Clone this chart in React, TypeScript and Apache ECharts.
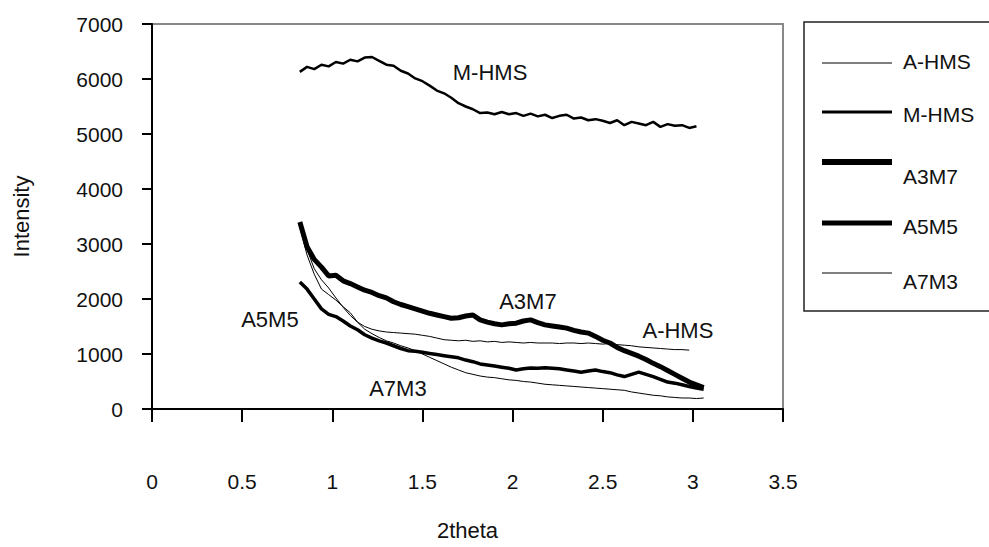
import React, { useEffect, useRef } from "react";
import * as echarts from "echarts";

const thetas = [
  0.82, 0.86, 0.9, 0.94, 0.98, 1.02, 1.06, 1.1, 1.14, 1.18, 1.22, 1.26, 1.3, 1.34, 1.38, 1.42, 1.46, 1.5, 1.54,
  1.58, 1.62, 1.66, 1.7, 1.74, 1.78, 1.82, 1.86, 1.9, 1.94, 1.98, 2.02, 2.06, 2.1, 2.14, 2.18, 2.22, 2.26, 2.3,
  2.34, 2.38, 2.42, 2.46, 2.5, 2.54, 2.58, 2.62, 2.66, 2.7, 2.74, 2.78, 2.82, 2.86, 2.9, 2.94, 2.98, 3.02, 3.06,
];

const aHMS = [
  3350, 2900, 2550, 2350, 2200, 2020, 1850, 1700, 1580, 1500, 1450, 1420, 1400, 1390, 1380, 1370, 1360, 1340, 1320,
  1290, 1260, 1250, 1240, 1250, 1230, 1240, 1220, 1230, 1210, 1220, 1210, 1200, 1210, 1200, 1200, 1200, 1190, 1200,
  1200, 1190, 1200, 1190, 1180, 1190, 1170, 1160, 1150, 1130, 1120, 1110, 1100, 1090, 1080, 1080, 1070, null, null,
];

const mHMS = [
  6130, 6220, 6180, 6260, 6230, 6310, 6280, 6350, 6320, 6390, 6400, 6330, 6260, 6240, 6150, 6100, 6010, 5960, 5880,
  5790, 5740, 5660, 5560, 5500, 5450, 5380, 5390, 5360, 5400, 5360, 5380, 5330, 5370, 5320, 5350, 5290, 5330, 5350,
  5280, 5300, 5250, 5270, 5240, 5200, 5250, 5160, 5220, 5190, 5160, 5220, 5130, 5180, 5150, 5160, 5110, 5140, null,
];

const a3M7 = [
  3400, 2950, 2720, 2580, 2420, 2430, 2330, 2280, 2220, 2160, 2120, 2060, 2020, 1950, 1900, 1860, 1820, 1780, 1740,
  1710, 1680, 1650, 1660, 1690, 1710, 1620, 1580, 1550, 1530, 1550, 1560, 1600, 1620, 1570, 1530, 1510, 1490, 1470,
  1430, 1400, 1380, 1320, 1250, 1200, 1120, 1060, 1010, 960, 900, 830, 770, 700, 630, 560, 490, 440, 390,
];

const a5M5 = [
  2310, 2180, 2000, 1820, 1720, 1680, 1600, 1510, 1440, 1350, 1290, 1240, 1200, 1150, 1100, 1060, 1050, 1030, 1010,
  990, 970, 950, 930, 890, 860, 820, 800, 780, 760, 740, 710, 730, 745, 740, 750, 740, 730, 710, 690, 670, 690, 710,
  680, 660, 620, 590, 630, 670, 630, 590, 540, 490, 470, 440, 410, 380, 360,
];

const a7M3 = [
  3300, 2800, 2450, 2180, 2080, 1980, 1860, 1750, 1580, 1450, 1370, 1300, 1240, 1200, 1150, 1110, 1060, 1000, 940,
  880, 820, 760, 710, 660, 630, 600, 580, 570, 550, 530, 520, 500, 490, 470, 450, 440, 430, 420, 410, 400, 390, 380,
  370, 360, 350, 340, 310, 290, 270, 250, 240, 220, 210, 200, 200, 190, 200,
];

const seriesNames = ["A-HMS", "M-HMS", "A3M7", "A5M5", "A7M3"];
const seriesValues = [aHMS, mHMS, a3M7, a5M5, a7M3];
const seriesWidths = [1, 2.5, 5, 3.5, 1];

// in-plot annotations [label, theta, intensity]
const annotations: [string, number, number][] = [
  ["M-HMS", 1.875, 6120],
  ["A3M7", 2.085, 1960],
  ["A-HMS", 2.917, 1420],
  ["A5M5", 0.654, 1620],
  ["A7M3", 1.364, 370],
];
const annotationSeries = [1, 2, 0, 3, 4];

const legendRows = [63, 112, 162, 223, 273];
const legendTextRows = [61, 114, 176, 226, 281];
const legendWidths = [1, 3, 6, 5, 1];

export default function App() {
  const ref = useRef<HTMLDivElement>(null);
  useEffect(() => {
    if (!ref.current) return;
    const chart = echarts.init(ref.current, null, { renderer: "svg" });
    const font = "'Liberation Sans', Arial, sans-serif";
    const series: any[] = seriesNames.map((name, si) => {
      const ann = annotations.filter((_, ai) => annotationSeries[ai] === si);
      return {
        name,
        type: "line",
        showSymbol: false,
        symbol: "none",
        smooth: false,
        connectNulls: false,
        lineStyle: { color: "#000", width: seriesWidths[si] },
        data: thetas.map((t, i) => [t, seriesValues[si][i]]),
        markPoint: ann.length
          ? {
              symbol: "circle",
              symbolSize: 1,
              itemStyle: { color: "rgba(0,0,0,0)" },
              label: {
                show: true,
                position: "inside",
                color: "#111",
                fontFamily: font,
                fontSize: 22,
                formatter: (p: any) => p.name,
              },
              data: ann.map((a) => ({ name: a[0], coord: [a[1], a[2]] })),
            }
          : undefined,
      };
    });

    const graphic: any[] = [
      {
        type: "rect",
        shape: { x: 804, y: 22, width: 200, height: 289 },
        style: { fill: "#fff", stroke: "#222", lineWidth: 1.5 },
        z: 10,
      },
    ];
    seriesNames.forEach((name, i) => {
      graphic.push({
        type: "line",
        shape: { x1: 822, y1: legendRows[i], x2: 892, y2: legendRows[i] },
        style: { stroke: "#000", lineWidth: legendWidths[i] },
        z: 11,
      });
      graphic.push({
        type: "text",
        x: 903,
        y: legendTextRows[i],
        style: {
          text: name,
          fill: "#111",
          font: `21px ${font}`,
          verticalAlign: "middle",
        },
        z: 11,
      });
    });

    chart.setOption({
      animation: false,
      backgroundColor: "#fff",
      grid: {
        left: 152,
        top: 24,
        width: 631,
        height: 385,
        outerBoundsMode: "none",
        containLabel: false,
        show: true,
        backgroundColor: "#fff",
        borderColor: "#888",
        borderWidth: 2,
      },
      xAxis: {
        type: "value",
        min: 0,
        max: 3.5,
        interval: 0.5,
        name: "2theta",
        nameLocation: "middle",
        nameGap: 110,
        nameTextStyle: { color: "#111", fontFamily: font, fontSize: 22 },
        axisLine: { show: true, lineStyle: { color: "#000", width: 2 } },
        axisTick: { show: true, length: 13, lineStyle: { color: "#000", width: 2 } },
        axisLabel: { margin: 62, color: "#111", fontFamily: font, fontSize: 21 },
        splitLine: { show: false },
      },
      yAxis: {
        type: "value",
        min: 0,
        max: 7000,
        interval: 1000,
        name: "Intensity",
        nameLocation: "middle",
        nameGap: 120,
        nameRotate: 90,
        nameTextStyle: { color: "#111", fontFamily: font, fontSize: 22 },
        axisLine: { show: true, lineStyle: { color: "#000", width: 2 } },
        axisTick: { show: true, length: 10, lineStyle: { color: "#000", width: 2 } },
        axisLabel: {
          margin: 29,
          color: "#111",
          fontFamily: font,
          fontSize: 21,
          formatter: (v: number) => String(v),
        },
        splitLine: { show: false },
      },
      series,
      graphic,
    });
    return () => chart.dispose();
  }, []);
  return (
    <div
      ref={ref}
      style={{ position: "fixed", left: 0, top: 0, width: 989, height: 547, background: "#fff" }}
    />
  );
}
